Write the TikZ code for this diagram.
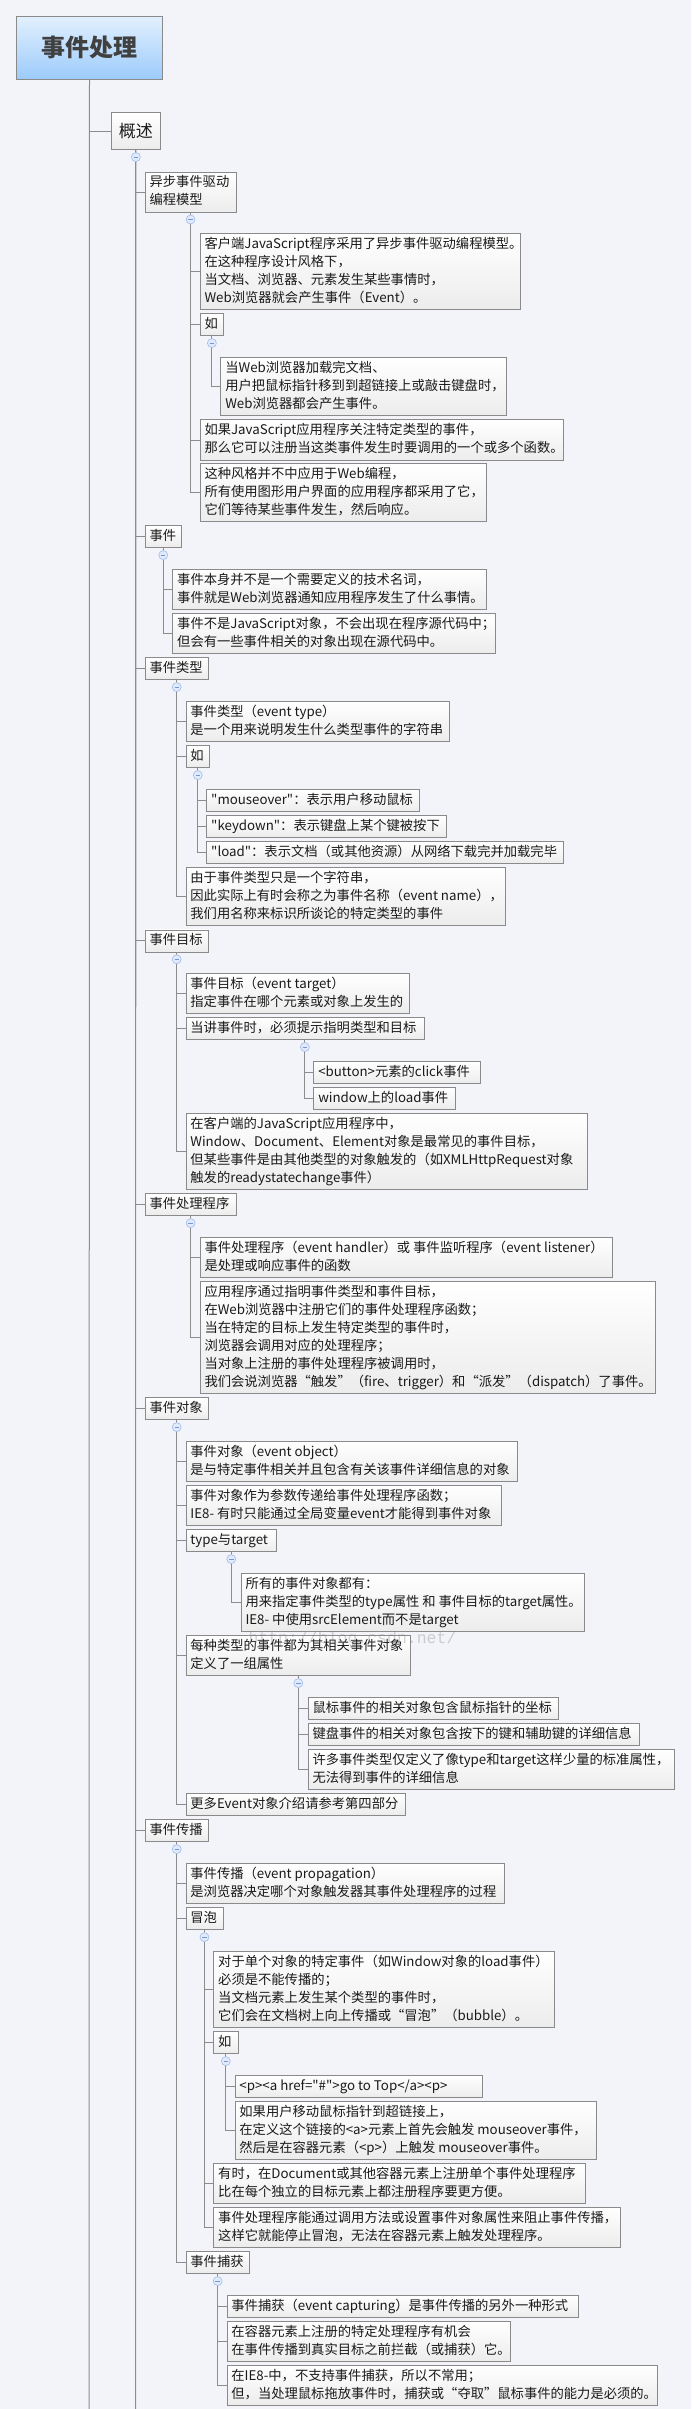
\documentclass[tikz,border=0pt]{standalone}
\usepackage{fontspec}
\setmainfont{Noto Sans CJK SC}[Ligatures=TeXOff]
\newfontfamily\wmfont{Liberation Mono}
\definecolor{bgcol}{RGB}{243,244,249}
\definecolor{boxline}{RGB}{138,138,138}
\definecolor{boxbot}{RGB}{236,236,236}
\definecolor{txt}{RGB}{26,26,26}
\definecolor{lncol}{RGB}{140,140,140}
\definecolor{mfill}{RGB}{224,234,252}
\definecolor{mline}{RGB}{160,188,234}
\definecolor{mdash}{RGB}{120,150,210}
\definecolor{roottop}{RGB}{226,240,254}
\definecolor{rootbot}{RGB}{156,203,251}
\definecolor{roottxt}{RGB}{64,64,64}
\tikzset{
  mbox/.style={draw=boxline, line width=0.8pt, top color=white, bottom color=boxbot,
    inner xsep=4.5pt, inner ysep=0pt, anchor=north west, text=txt,
    font=\fontsize{13.3}{18}\selectfont},
  rootbox/.style={draw=boxline, line width=1pt, top color=roottop, bottom color=rootbot,
    anchor=north west, text=roottxt, font=\fontsize{24}{28}\selectfont\bfseries},
  conn/.style={draw=lncol, line width=1pt},
  minus/.style={circle, minimum size=9pt, inner sep=0pt, fill=mfill, draw=mline, line width=0.6pt,
    path picture={\draw[mdash, line width=0.8pt] ([xshift=-2.2pt]path picture bounding box.center) -- ([xshift=2.2pt]path picture bounding box.center);}},
}
\newcommand\mmn[6]{\node[mbox, minimum width=#4pt, minimum height=#5pt] (#1) at (#2,#3) {\makebox[\dimexpr #4pt-9pt\relax][l]{\begin{tabular}{@{}l@{}}#6\end{tabular}}};}
\begin{document}
\begin{tikzpicture}[x=1pt,y=-1pt]
\fill[bgcol] (0,0) rectangle (691,2409);
\useasboundingbox (0,0) rectangle (691,2409);

\node[rootbox, minimum width=145.4pt, minimum height=62.7pt] (r) at (16.3,16) {事件处理};
\node[mbox, font=\fontsize{17}{20}\selectfont, minimum width=49.8pt, minimum height=37pt] (g) at (110.6,112.3) {概述};

\mmn{a}{144.6}{171.7}{91.2}{40}{异步事件驱动\\编程模型}
\mmn{a1}{199.6}{233.3}{320}{76}{客户端JavaScript程序采用了异步事件驱动编程模型。\\在这种程序设计风格下，\\当文档、浏览器、元素发生某些事情时，\\Web浏览器就会产生事件（Event）。}
\mmn{a2}{199.6}{313.3}{23.8}{22}{如}
\mmn{a21}{220.4}{357.3}{286}{58}{当Web浏览器加载完文档、\\用户把鼠标指针移到到超链接上或敲击键盘时，\\Web浏览器都会产生事件。}
\mmn{a3}{199.6}{419.3}{363.2}{40.7}{如果JavaScript应用程序关注特定类型的事件，\\那么它可以注册当这类事件发生时要调用的一个或多个函数。}
\mmn{a4}{199.6}{463.3}{286.1}{58}{这种风格并不中应用于Web编程，\\所有使用图形用户界面的应用程序都采用了它，\\它们等待某些事件发生，然后响应。}
\mmn{b}{144.6}{525.3}{36.5}{22}{事件}
\mmn{b1}{172.3}{569.3}{313.4}{40}{事件本身并不是一个需要定义的技术名词，\\事件就是Web浏览器通知应用程序发生了什么事情。}
\mmn{b2}{172.3}{613.3}{323.1}{40}{事件不是JavaScript对象，不会出现在程序源代码中；\\但会有一些事件相关的对象出现在源代码中。}
\mmn{c}{144.6}{657.3}{63.4}{22}{事件类型}
\mmn{c1}{185.5}{701.3}{263.6}{40}{事件类型（event type）\\是一个用来说明发生什么类型事件的字符串}
\mmn{c2}{185.5}{745.3}{23.8}{22}{如}
\mmn{c21}{206.3}{789.3}{212.8}{22}{"mouseover"：表示用户移动鼠标}
\mmn{c22}{206.3}{815.3}{239.7}{22}{"keydown"：表示键盘上某个键被按下}
\mmn{c23}{206.3}{841.3}{356.9}{22}{"load"：表示文档（或其他资源）从网络下载完并加载完毕}
\mmn{c3}{185.5}{867.3}{319.5}{58}{由于事件类型只是一个字符串，\\因此实际上有时会称之为事件名称（event name），\\我们用名称来标识所谈论的特定类型的事件}
\mmn{d}{144.6}{929.5}{63.4}{22}{事件目标}
\mmn{d1}{185.5}{973.3}{223.9}{40}{事件目标（event target）\\指定事件在哪个元素或对象上发生的}
\mmn{d2}{185.5}{1017.3}{238}{22}{当讲事件时，必须提示指明类型和目标}
\mmn{d21}{313.4}{1061.3}{166.6}{22}{<button>元素的click事件}
\mmn{d22}{313.4}{1087.3}{141.4}{22}{window上的load事件}
\mmn{d3}{185.5}{1113.3}{401.1}{76}{在客户端的JavaScript应用程序中，\\Window、Document、Element对象是最常见的事件目标，\\但某些事件是由其他类型的对象触发的（如XMLHttpRequest对象\\触发的readystatechange事件）}
\mmn{e}{144.6}{1193.3}{91.2}{22}{事件处理程序}
\mmn{e1}{199.6}{1237.3}{412.1}{40}{事件处理程序（event handler）或 事件监听程序（event listener）\\是处理或响应事件的函数}
\mmn{e2}{199.6}{1281.3}{454.9}{112}{应用程序通过指明事件类型和事件目标，\\在Web浏览器中注册它们的事件处理程序函数；\\当在特定的目标上发生特定类型的事件时，\\浏览器会调用对应的处理程序；\\当对象上注册的事件处理程序被调用时，\\我们会说浏览器“触发”（fire、trigger）和“派发”（dispatch）了事件。}
\mmn{f}{144.6}{1397.3}{63.4}{22}{事件对象}
\mmn{f1}{185.5}{1441.3}{331.5}{40}{事件对象（event object）\\是与特定事件相关并且包含有关该事件详细信息的对象}
\mmn{f2}{185.5}{1485.3}{315.6}{40}{事件对象作为参数传递给事件处理程序函数；\\IE8- 有时只能通过全局变量event才能得到事件对象}
\mmn{f3}{185.5}{1529.3}{90.8}{22}{type与target}
\mmn{f31}{240.6}{1573.3}{343.4}{58}{所有的事件对象都有：\\用来指定事件类型的type属性 和 事件目标的target属性。\\IE8- 中使用srcElement而不是target}
\mmn{f4}{185.5}{1635.3}{224.8}{40}{每种类型的事件都为其相关事件对象\\定义了一组属性}
\mmn{f41}{307.6}{1697.3}{250.4}{22}{鼠标事件的相关对象包含鼠标指针的坐标}
\mmn{f42}{307.6}{1723.3}{331.4}{22}{键盘事件的相关对象包含按下的键和辅助键的详细信息}
\mmn{f43}{307.6}{1749.3}{366.7}{40}{许多事件类型仅定义了像type和target这样少量的标准属性，\\无法得到事件的详细信息}
\mmn{f5}{185.5}{1793.3}{219.5}{22}{更多Event对象介绍请参考第四部分}
\mmn{h}{144.6}{1819.3}{63.4}{22}{事件传播}
\mmn{h1}{185.5}{1863.3}{318.7}{40}{事件传播（event propagation）\\是浏览器决定哪个对象触发器其事件处理程序的过程}
\mmn{h2}{185.5}{1907.3}{37.1}{22}{冒泡}
\mmn{h21}{213.3}{1951.3}{340.7}{76}{对于单个对象的特定事件（如Window对象的load事件）\\必须是不能传播的；\\当文档元素上发生某个类型的事件时，\\它们会在文档树上向上传播或“冒泡”（bubble）。}
\mmn{h22}{213.3}{2031.3}{24.2}{22}{如}
\mmn{h221}{234.5}{2075.3}{247.7}{22}{<p><a href="\#">go to Top</a><p>}
\mmn{h222}{234.5}{2101.3}{361.8}{58}{如果用户移动鼠标指针到超链接上，\\在定义这个链接的<a>元素上首先会触发 mouseover事件，\\然后是在容器元素（<p>）上触发 mouseover事件。}
\mmn{h23}{213.3}{2163.3}{372}{40}{有时，在Document或其他容器元素上注册单个事件处理程序\\比在每个独立的目标元素上都注册程序要更方便。}
\mmn{h24}{213.3}{2207.3}{406.8}{40}{事件处理程序能通过调用方法或设置事件对象属性来阻止事件传播，\\这样它就能停止冒泡，无法在容器元素上触发处理程序。}
\mmn{h3}{185.5}{2251.3}{63.5}{22}{事件捕获}
\mmn{h31}{226.5}{2295.3}{351.7}{22}{事件捕获（event capturing）是事件传播的另外一种形式}
\mmn{h32}{226.5}{2321.3}{283.9}{40}{在容器元素上注册的特定处理程序有机会\\在事件传播到真实目标之前拦截（或捕获）它。}
\mmn{h33}{226.5}{2365.3}{430.2}{40}{在IE8-中，不支持事件捕获，所以不常用；\\但，当处理鼠标拖放事件时，捕获或“夺取”鼠标事件的能力是必须的。}

\coordinate (rend) at (89,2409);
\coordinate (gend) at (135.5,2409);
\draw[conn] (r.south) -- (rend);
\draw[conn] (g.south) -- (gend);
\foreach \p/\c in {r/g, g/a, g/b, g/c, g/d, g/e, g/f, g/h,
  a/a1, a/a2, a/a3, a/a4, a2/a21, b/b1, b/b2,
  c/c1, c/c2, c/c3, c2/c21, c2/c22, c2/c23,
  d/d1, d/d2, d/d3, d2/d21, d2/d22, e/e1, e/e2,
  f/f1, f/f2, f/f3, f/f4, f/f5, f3/f31, f4/f41, f4/f42, f4/f43,
  h/h1, h/h2, h/h3, h2/h21, h2/h22, h2/h23, h2/h24, h22/h221, h22/h222,
  h3/h31, h3/h32, h3/h33}
  {\draw[conn] (\p.south) |- (\c.west);}
\foreach \p in {g,a,a2,b,c,c2,d,d2,e,f,f3,f4,h,h2,h22,h3}
  {\node[minus] (m\p) at ([yshift=-7pt]\p.south) {};}

\node[text=gray, text opacity=0.35, font=\wmfont\fontsize{16.5}{18}\selectfont] (wm) at (352.5,1639) {http://blog.csdn.net/};
\end{tikzpicture}
\end{document}
